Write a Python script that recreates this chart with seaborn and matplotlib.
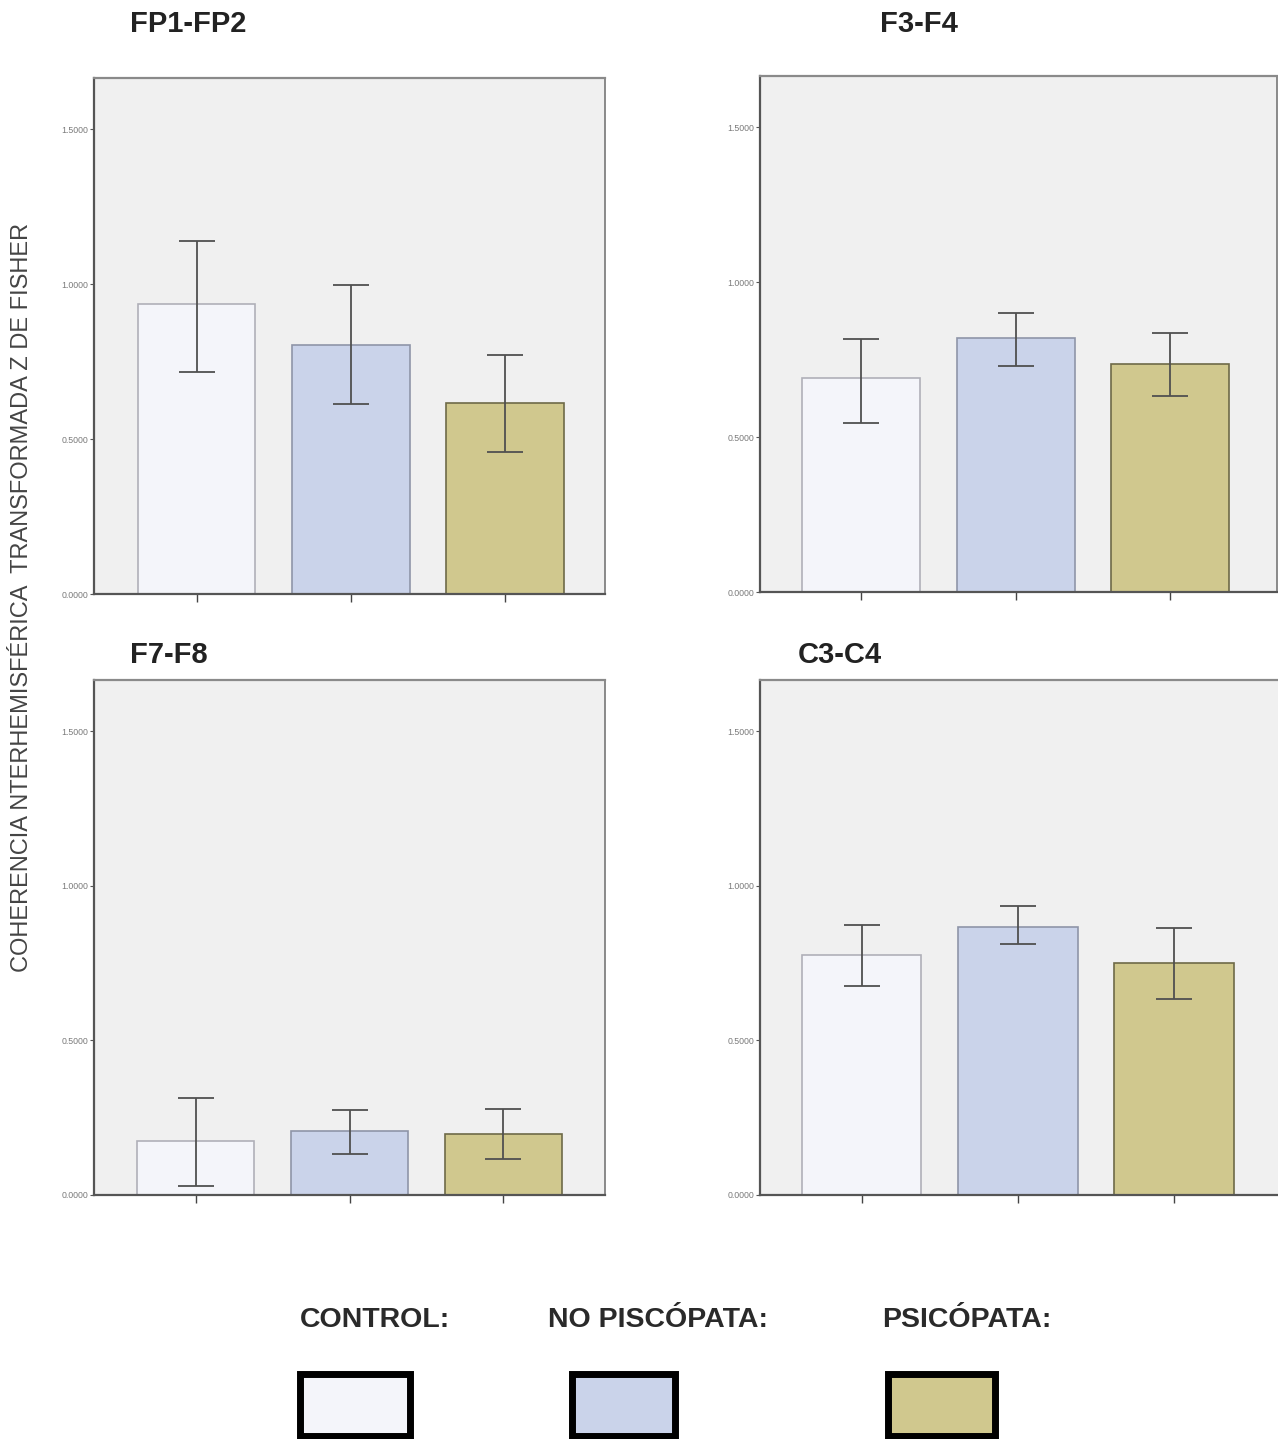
import matplotlib
matplotlib.use("Agg")
import matplotlib.pyplot as plt
import matplotlib.patches as mpatches
import seaborn as sns
import pandas as pd
import numpy as np

sns.set_theme(style="white")
plt.rcParams['font.family'] = ['Liberation Sans', 'DejaVu Sans']

groups = ["CONTROL", "NO PISCÓPATA", "PSICÓPATA"]
legend_labels = ["CONTROL:", "NO PISCÓPATA:", "PSICÓPATA:"]
colors = ["#f4f5fa", "#cad3ea", "#d0c88e"]
edge_colors = ["#b0b0b8", "#8f95a8", "#6e6a48"]

titles = ["FP1-FP2", "F3-F4", "F7-F8", "C3-C4"]

fp1_mean = [0.935, 0.803, 0.616]
fp1_low = [0.716, 0.613, 0.458]
fp1_high = [1.139, 0.997, 0.771]

f3_mean = [0.689, 0.819, 0.735]
f3_low = [0.544, 0.728, 0.634]
f3_high = [0.816, 0.900, 0.835]

f7_mean = [0.175, 0.207, 0.197]
f7_low = [0.029, 0.133, 0.117]
f7_high = [0.314, 0.275, 0.278]

c3_mean = [0.777, 0.867, 0.751]
c3_low = [0.676, 0.812, 0.634]
c3_high = [0.874, 0.935, 0.864]

yticks = [0.0, 0.5, 1.0, 1.5]
ytick_labels = ["0.0000", "0.5000", "1.0000", "1.5000"]

panels = [
    (fp1_mean, fp1_low, fp1_high),
    (f3_mean, f3_low, f3_high),
    (f7_mean, f7_low, f7_high),
    (c3_mean, c3_low, c3_high),
]

W, H = 1278, 1439
fig = plt.figure(figsize=(W / 100, H / 100), dpi=100)
fig.patch.set_facecolor("white")

# axes boxes in pixels: left, top, right, bottom
boxes = [
    (94, 78, 605, 594),
    (760, 76, 1277, 592),
    (94, 680, 605, 1195),
    (760, 680, 1280, 1195),
]
xlims = [(-0.665, 2.65), (-0.654, 2.69), (-0.66, 2.66), (-0.652, 2.68)]
title_pos = [(130, 24), (880, 24), (130, 655), (798, 655)]

for i, ((mean, low, high), (l, t, r, b)) in enumerate(zip(panels, boxes)):
    ax = fig.add_axes([l / W, 1 - b / H, (r - l) / W, (b - t) / H])
    ax.set_facecolor("#f0f0f0")
    df = pd.DataFrame({"grupo": groups, "valor": mean})
    sns.barplot(data=df, x="grupo", y="valor", hue="grupo", palette=colors,
                saturation=1, width=0.765, errorbar=None, legend=False,
                ax=ax, zorder=2)
    for p, ec in zip(ax.patches, edge_colors):
        p.set_edgecolor(ec)
        p.set_linewidth(1.2)
    xs = np.arange(len(groups))
    m = np.array(mean)
    yerr = np.vstack([m - np.array(low), np.array(high) - m])
    ax.errorbar(xs, m, yerr=yerr, fmt="none", ecolor="#505050",
                elinewidth=1.3, capsize=13, capthick=1.3, zorder=3)
    ax.set_ylim(0, 1.665)
    ax.set_xlim(*xlims[i])
    ax.set_yticks(yticks)
    ax.set_yticklabels(ytick_labels, fontsize=6.3, color="#7a7a7a")
    ax.set_xticks(xs)
    ax.set_xticklabels([])
    ax.set_xlabel("")
    ax.set_ylabel("")
    ax.tick_params(axis="y", length=3, width=0.8, color="#555555", pad=1, left=True)
    ax.tick_params(axis="x", length=6, width=1.0, color="#444444", bottom=True)
    for side, col, lw in [("left", "#555555", 1.6), ("bottom", "#555555", 1.6),
                          ("top", "#8a8a8a", 1.6), ("right", "#777777", 1.2)]:
        ax.spines[side].set_visible(True)
        ax.spines[side].set_color(col)
        ax.spines[side].set_linewidth(lw)
    tx, ty = title_pos[i]
    fig.text(tx / W, 1 - ty / H, titles[i], fontsize=21, fontweight="bold",
             color="#222222", ha="left", va="center")

fig.text(22 / W, 1 - 597 / H,
         "COHERENCIA NTERHEMISFÉRICA  TRANSFORMADA Z DE FISHER",
         rotation=90, fontsize=17, color="#444444", ha="center", va="center")

leg_text_x = [300, 548, 882]
box_x = [(300, 410), (572, 675), (888, 995)]
for lab, tx, (bx0, bx1), col in zip(legend_labels, leg_text_x, box_x, colors):
    fig.text(tx / W, 1 - 1320 / H, lab, fontsize=20.5, fontweight="bold",
             color="#2a2a2a", ha="left", va="center")
    rect = mpatches.Rectangle((bx0 / W, 1 - 1436 / H), (bx1 - bx0) / W, 62 / H,
                              transform=fig.transFigure, facecolor=col,
                              edgecolor="black", linewidth=5, zorder=5)
    fig.patches.append(rect)

fig.savefig("out.png", dpi=100, facecolor="white")
